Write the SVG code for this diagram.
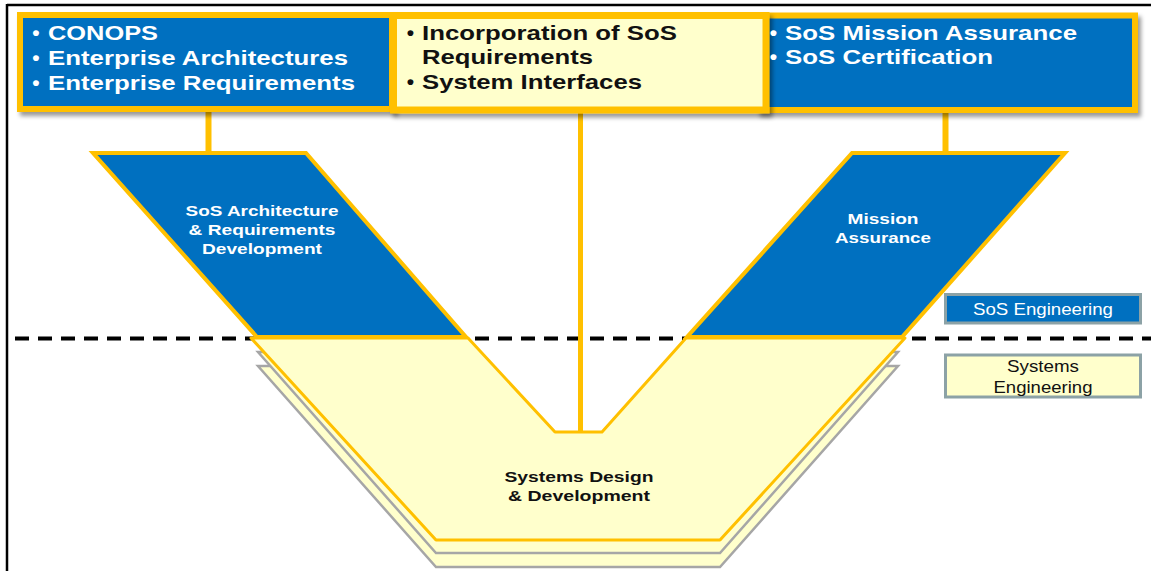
<svg xmlns="http://www.w3.org/2000/svg" width="1151" height="571" viewBox="0 0 1151 571">
<defs>
<style>
.t{font-family:"Liberation Sans",Arial,sans-serif;font-weight:bold}
.tb{font-size:21px}
.w{fill:#FFFFFF}
.k{fill:#111111}
.ps{font-size:15px}
.lab{font-family:"Liberation Sans",Arial,sans-serif;font-size:17px}
.gold{stroke:#FFC000}
.blue{fill:#0070C0}
.yel{fill:#FFFFCC}
</style>
<filter id="sh" x="-5%" y="-10%" width="115%" height="130%">
<feDropShadow dx="3" dy="4" stdDeviation="2" flood-color="#000" flood-opacity="0.4"/>
</filter>
</defs>
<rect width="1151" height="571" fill="#FFFFFF"/>
<g id="frame" fill="none" stroke="#000" stroke-width="2.5">
<line x1="7" y1="5" x2="1151" y2="5"/>
<line x1="7" y1="4" x2="7" y2="571"/>
</g>
<line id="divider" x1="15" y1="338.5" x2="1151" y2="338.5" stroke="#000" stroke-width="4" stroke-dasharray="14 9"/>
<g id="systems-design">
<polygon points="258,366 468,366 555,460 602,460 686,366 898,366 720,567 436,567" class="yel" stroke="#A6A6A6" stroke-width="2.5"/>
<polygon points="258,352 468,352 555,446 602,446 686,352 898,352 720,553 436,553" class="yel" stroke="#A6A6A6" stroke-width="2.5"/>
<polygon points="251,338 468,338 555,432 602,432 686,338 905,338 720,540 436,540" class="yel gold" stroke-width="3" stroke-linejoin="round"/>
<text class="t ps k" x="579" y="482" text-anchor="middle" textLength="149" lengthAdjust="spacingAndGlyphs">Systems Design</text>
<text class="t ps k" x="579" y="501" text-anchor="middle" textLength="142" lengthAdjust="spacingAndGlyphs">&amp; Development</text>
</g>
<g id="connectors" class="gold" fill="none">
<line x1="208.5" y1="110" x2="208.5" y2="154" stroke-width="6"/>
<line x1="580.5" y1="110" x2="580.5" y2="432" stroke-width="5"/>
<line x1="945.5" y1="110" x2="945.5" y2="154" stroke-width="6"/>
</g>
<g id="sos-arch">
<polygon points="93,153 306,153 466,337 257,337" class="blue gold" stroke-width="4"/>
<text class="t ps w" x="262" y="216" text-anchor="middle" textLength="153" lengthAdjust="spacingAndGlyphs">SoS Architecture</text>
<text class="t ps w" x="262" y="235" text-anchor="middle" textLength="147" lengthAdjust="spacingAndGlyphs">&amp; Requirements</text>
<text class="t ps w" x="262" y="254" text-anchor="middle" textLength="120" lengthAdjust="spacingAndGlyphs">Development</text>
</g>
<g id="mission-assurance">
<polygon points="852,153 1065,153 902,337 687,337" class="blue gold" stroke-width="4"/>
<text class="t ps w" x="883" y="224" text-anchor="middle" textLength="71" lengthAdjust="spacingAndGlyphs">Mission</text>
<text class="t ps w" x="883" y="243" text-anchor="middle" textLength="96" lengthAdjust="spacingAndGlyphs">Assurance</text>
</g>
<g id="box-enterprise">
<rect x="20" y="15" width="372" height="94" class="blue gold" stroke-width="6" filter="url(#sh)"/>
<text class="t tb w" x="36" y="39.5" text-anchor="middle">•</text>
<text class="t tb w" x="36" y="64.5" text-anchor="middle">•</text>
<text class="t tb w" x="36" y="89.5" text-anchor="middle">•</text>
<text class="t tb w" x="48" y="39.5" textLength="110" lengthAdjust="spacingAndGlyphs">CONOPS</text>
<text class="t tb w" x="48" y="64.5" textLength="300" lengthAdjust="spacingAndGlyphs">Enterprise Architectures</text>
<text class="t tb w" x="48" y="89.5" textLength="307" lengthAdjust="spacingAndGlyphs">Enterprise Requirements</text>
</g>
<g id="box-mission">
<rect x="760" y="15.5" width="375" height="94.5" class="blue gold" stroke-width="6" filter="url(#sh)"/>
</g>
<g id="box-requirements">
<rect x="393.5" y="15.5" width="372.5" height="94.5" class="yel gold" stroke-width="7" filter="url(#sh)"/>
<text class="t tb k" x="410.5" y="39.5" text-anchor="middle">•</text>
<text class="t tb k" x="410.5" y="89" text-anchor="middle">•</text>
<text class="t tb k" x="422" y="39.5" textLength="255" lengthAdjust="spacingAndGlyphs">Incorporation of SoS</text>
<text class="t tb k" x="422" y="64" textLength="171" lengthAdjust="spacingAndGlyphs">Requirements</text>
<text class="t tb k" x="422" y="89" textLength="220" lengthAdjust="spacingAndGlyphs">System Interfaces</text>
</g>
<g id="box-mission-text">
<text class="t tb w" x="773.5" y="39.5" text-anchor="middle">•</text>
<text class="t tb w" x="773.5" y="64" text-anchor="middle">•</text>
<text class="t tb w" x="785" y="39.5" textLength="292" lengthAdjust="spacingAndGlyphs">SoS Mission Assurance</text>
<text class="t tb w" x="785" y="64" textLength="208" lengthAdjust="spacingAndGlyphs">SoS Certification</text>
</g>
<g id="label-sos">
<rect x="945.5" y="294.5" width="195" height="28.5" class="blue" stroke="#8CA2A6" stroke-width="3"/>
<text class="lab w" x="1043" y="315" text-anchor="middle" textLength="140" lengthAdjust="spacingAndGlyphs">SoS Engineering</text>
</g>
<g id="label-systems">
<rect x="945.5" y="355" width="195" height="42" class="yel" stroke="#8CA2A6" stroke-width="3"/>
<text class="lab k" x="1043" y="372" text-anchor="middle" textLength="72" lengthAdjust="spacingAndGlyphs">Systems</text>
<text class="lab k" x="1043" y="393" text-anchor="middle" textLength="99" lengthAdjust="spacingAndGlyphs">Engineering</text>
</g>
</svg>
